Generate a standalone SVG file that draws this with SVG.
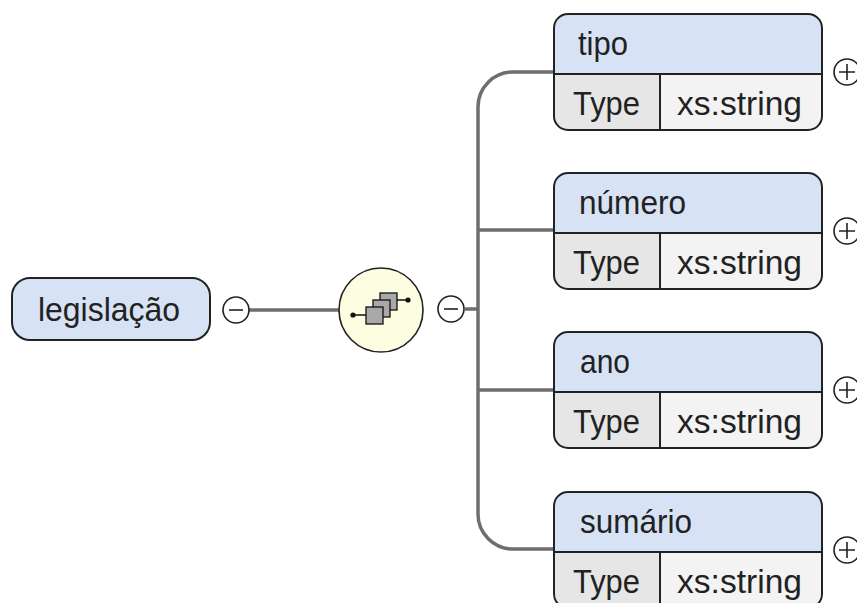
<svg xmlns="http://www.w3.org/2000/svg" xmlns:xlink="http://www.w3.org/1999/xlink" width="857" height="603" viewBox="0 0 857 603">
  <style>
    .lbl { font-family: "Liberation Sans", Arial, sans-serif; font-size: 34px; fill: #222; }
    .edge { fill: none; stroke: #6e6e6e; stroke-width: 3.5; }
    .outline { fill: none; stroke: #222; stroke-width: 2; }
    .toggle { fill: #fff; stroke: #222; stroke-width: 1.6; }
    .toggle-mark { stroke: #222; stroke-width: 1.6; }
    .hdr { fill: #d7e3f5; }
    .typecell { fill: #e6e6e6; }
    .valcell { fill: #f3f3f3; }
  </style>
  <defs>
    <!-- element box: header row with name, then Type / value row; origin at top-left -->
    <g id="elemBox">
      <path class="hdr" d="M0,60 V14 A14,14 0 0 1 14,0 H254 A14,14 0 0 1 268,14 V60 Z"/>
      <path class="typecell" d="M0,60 H106 V116 H14 A14,14 0 0 1 0,102 Z"/>
      <path class="valcell" d="M106,60 H268 V102 A14,14 0 0 1 254,116 H106 Z"/>
      <rect class="outline" x="0" y="0" width="268" height="116" rx="14" ry="14"/>
      <path class="outline" d="M0,60 H268 M106,60 V116"/>
      <circle class="toggle" cx="293" cy="58" r="13"/>
      <path class="toggle-mark" d="M285,58 H301 M293,50 V66"/>
    </g>
  </defs>

  <rect width="857" height="603" fill="#fff"/>

  <g id="connectors">
    <path class="edge" d="M249,310 H340"/>
    <path class="edge" d="M465,309 H478"/>
    <path class="edge" d="M554,72 H513 A35,35 0 0 0 478,107 V514 A35,35 0 0 0 513,549 H554"/>
    <path class="edge" d="M478,230 H554"/>
    <path class="edge" d="M478,390 H554"/>
  </g>

  <g id="legislacao">
    <rect x="12" y="278" width="198" height="62" rx="18" ry="18" fill="#d7e3f5" stroke="#222" stroke-width="2"/>
    <text class="lbl" x="38" y="321" textLength="142" lengthAdjust="spacingAndGlyphs">legislação</text>
    <circle class="toggle" cx="236" cy="310" r="13"/>
    <path class="toggle-mark" d="M229,310 H243"/>
  </g>

  <g id="sequence">
    <circle cx="381" cy="310" r="42" fill="#fdfde1" stroke="#222" stroke-width="1.6"/>
    <path d="M353,315 H366 M397,300 H408" stroke="#111" stroke-width="1.6"/>
    <circle cx="353" cy="315" r="2.6" fill="#111"/>
    <circle cx="408" cy="300" r="2.6" fill="#111"/>
    <rect x="380" y="293" width="17" height="17" fill="#a8a8a8" stroke="#111" stroke-width="1.3"/>
    <rect x="373" y="300" width="17" height="17" fill="#a8a8a8" stroke="#111" stroke-width="1.3"/>
    <rect x="366" y="307" width="17" height="17" fill="#a8a8a8" stroke="#111" stroke-width="1.3"/>
    <circle class="toggle" cx="451" cy="309" r="13"/>
    <path class="toggle-mark" d="M444,309 H458"/>
  </g>

  <g id="tipo" transform="translate(554,14)">
    <use xlink:href="#elemBox"/>
    <text class="lbl" x="24" y="41" textLength="50" lengthAdjust="spacingAndGlyphs">tipo</text>
    <text class="lbl" x="19" y="101" textLength="67" lengthAdjust="spacingAndGlyphs">Type</text>
    <text class="lbl" x="123" y="101" textLength="125" lengthAdjust="spacingAndGlyphs">xs:string</text>
  </g>

  <g id="numero" transform="translate(554,173)">
    <use xlink:href="#elemBox"/>
    <text class="lbl" x="25" y="41" textLength="107" lengthAdjust="spacingAndGlyphs">número</text>
    <text class="lbl" x="19" y="101" textLength="67" lengthAdjust="spacingAndGlyphs">Type</text>
    <text class="lbl" x="123" y="101" textLength="125" lengthAdjust="spacingAndGlyphs">xs:string</text>
  </g>

  <g id="ano" transform="translate(554,332)">
    <use xlink:href="#elemBox"/>
    <text class="lbl" x="26" y="41" textLength="50" lengthAdjust="spacingAndGlyphs">ano</text>
    <text class="lbl" x="19" y="101" textLength="67" lengthAdjust="spacingAndGlyphs">Type</text>
    <text class="lbl" x="123" y="101" textLength="125" lengthAdjust="spacingAndGlyphs">xs:string</text>
  </g>

  <g id="sumario" transform="translate(554,492)">
    <use xlink:href="#elemBox"/>
    <text class="lbl" x="26" y="41" textLength="112" lengthAdjust="spacingAndGlyphs">sumário</text>
    <text class="lbl" x="19" y="101" textLength="67" lengthAdjust="spacingAndGlyphs">Type</text>
    <text class="lbl" x="123" y="101" textLength="125" lengthAdjust="spacingAndGlyphs">xs:string</text>
  </g>
</svg>
